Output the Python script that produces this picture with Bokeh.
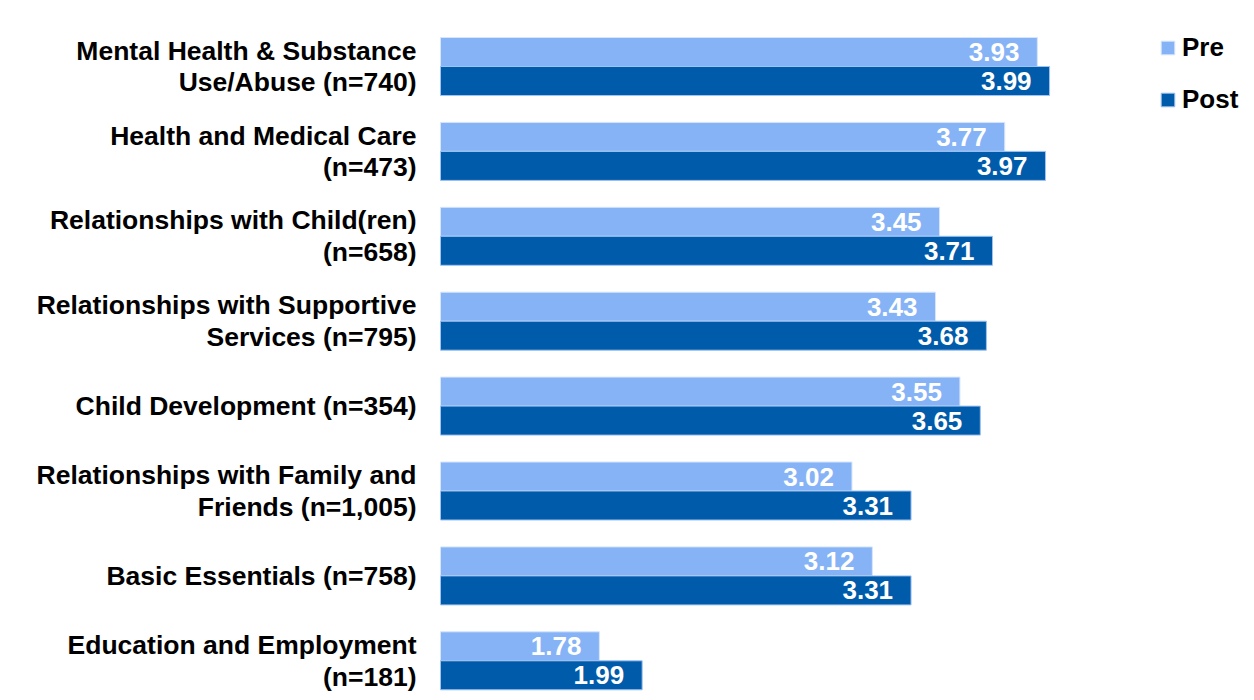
import numpy as np
from bokeh.plotting import figure
from bokeh.models import ColumnDataSource, Range1d, Legend, LegendItem
from bokeh.core.properties import value
from bokeh.transform import dodge
from bokeh.embed import file_html
from bokeh.resources import INLINE

# ---- data ----
categories = [
    "Mental Health & Substance\nUse/Abuse (n=740)",
    "Health and Medical Care\n(n=473)",
    "Relationships with Child(ren)\n(n=658)",
    "Relationships with Supportive\nServices (n=795)",
    "Child Development (n=354)",
    "Relationships with Family and\nFriends (n=1,005)",
    "Basic Essentials (n=758)",
    "Education and Employment\n(n=181)",
]
pre = [3.93, 3.77, 3.45, 3.43, 3.55, 3.02, 3.12, 1.78]
post = [3.99, 3.97, 3.71, 3.68, 3.65, 3.31, 3.31, 1.99]
series = ["Pre", "Post"]
colors = ["#86B3F6", "#005BAA"]
base_value = 1.0

FONT_NAME = "Liberation Sans"
FONT = value(FONT_NAME)
W, H = 1254, 700
STEP = 84.9
BAR_H = 29 / STEP

pos = np.arange(len(categories))
src = ColumnDataSource(dict(
    pos=pos,
    cat=categories,
    pre=pre,
    post=post,
    pre_lbl=[f"{v:.2f}" for v in pre],
    post_lbl=[f"{v:.2f}" for v in post],
    base=[base_value] * len(categories),
))

p = figure(width=W, height=H, output_backend="svg", toolbar_location=None,
           x_range=Range1d(-1.16004, 4.99607), y_range=Range1d(634 / STEP, -66 / STEP),
           x_axis_location=None, y_axis_location=None, min_border=0)
p.grid.visible = False
p.outline_line_color = None
p.background_fill_color = "white"
p.border_fill_color = "white"

r_pre = p.hbar(y=dodge("pos", -BAR_H / 2), left="base", right="pre", height=BAR_H,
               fill_color=colors[0], line_color="#D6E5FB", line_width=1, source=src)
r_post = p.hbar(y=dodge("pos", BAR_H / 2), left="base", right="post", height=BAR_H,
                fill_color=colors[1], line_color="#9EC2F2", line_width=1, source=src)

# value labels inside bars
p.text(x="pre", y=dodge("pos", -BAR_H / 2), text="pre_lbl", source=src,
       text_align="right", text_baseline="middle", x_offset=-18,
       text_font=FONT, text_font_style="bold", text_font_size="26px", text_color="white")
p.text(x="post", y=dodge("pos", BAR_H / 2), text="post_lbl", source=src,
       text_align="right", text_baseline="middle", x_offset=-18,
       text_font=FONT, text_font_style="bold", text_font_size="26px", text_color="white")

# category labels
p.text(x="base", y="pos", text="cat", source=src,
       text_align="right", text_baseline="middle", x_offset=-24,
       text_font=FONT, text_font_style="bold", text_font_size="26.5px",
       text_color="black", text_line_height=1.06)

legend = Legend(items=[LegendItem(label=series[0], renderers=[r_pre]),
                       LegendItem(label=series[1], renderers=[r_post])],
                location=(1159, 585), orientation="vertical",
                glyph_width=17, glyph_height=17, label_standoff=6,
                label_text_font=FONT_NAME, label_text_font_style="bold",
                label_text_font_size="26px", label_text_color="black",
                label_height=30, spacing=21,
                padding=0, margin=0, border_line_color=None,
                background_fill_alpha=0)
p.add_layout(legend)

open("out.html", "w").write(file_html(p, INLINE))
